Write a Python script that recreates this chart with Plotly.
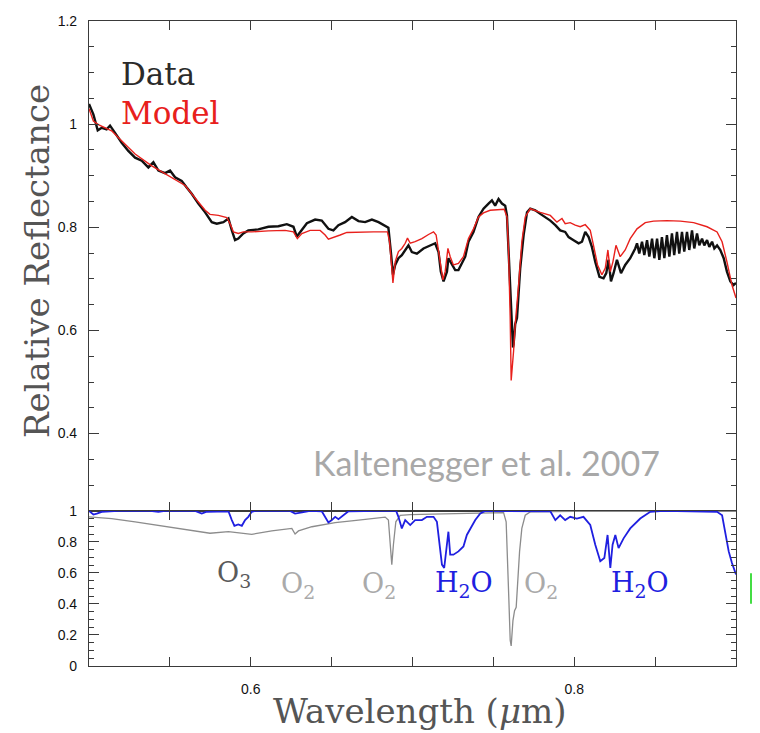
import plotly.graph_objects as go

# ---------------- data ----------------
data_wl = [0.5, 0.5027, 0.5054, 0.5079, 0.5109, 0.5130, 0.5161, 0.5202, 0.5243, 0.5285,
           0.5326, 0.5367, 0.5398, 0.5429, 0.5470, 0.5501, 0.5532, 0.5573, 0.5604, 0.5635,
           0.5676, 0.5718, 0.5759, 0.5790, 0.5831, 0.5862, 0.5883, 0.5903, 0.5923, 0.5954,
           0.5985, 0.6047, 0.6109, 0.6171, 0.6223, 0.6264, 0.6285, 0.6316, 0.6347, 0.6398,
           0.6439, 0.6480, 0.6511, 0.6542, 0.6583, 0.6625, 0.6666, 0.6707, 0.6749, 0.6790,
           0.6831, 0.6851, 0.6866, 0.6879, 0.6893, 0.6913, 0.6934, 0.6955, 0.6975, 0.6996,
           0.7027, 0.7068, 0.7109, 0.7140, 0.7161, 0.7175, 0.7192, 0.7213, 0.7222, 0.7243,
           0.7264, 0.7284, 0.7305, 0.7326, 0.7346, 0.7377, 0.7408, 0.7439, 0.7470, 0.7491,
           0.7511, 0.7532, 0.7553, 0.7573, 0.7584, 0.7594, 0.7604, 0.7615, 0.7621, 0.7625,
           0.7635, 0.7646, 0.7656, 0.7666, 0.7687, 0.7708, 0.7728, 0.7759, 0.7790, 0.7821,
           0.7852, 0.7883, 0.7913, 0.7944, 0.7965, 0.7996, 0.8027, 0.8048, 0.8068, 0.8089,
           0.8109, 0.8130, 0.8156, 0.8181, 0.8198, 0.8212, 0.8227, 0.8243, 0.8264, 0.8289,
           0.8315, 0.8346, 0.8377, 0.8388, 0.8402, 0.8419, 0.8433, 0.8450, 0.8464, 0.8481,
           0.8495, 0.8512, 0.8526, 0.8542, 0.8557, 0.8573, 0.8588, 0.8604, 0.8618, 0.8635,
           0.8649, 0.8666, 0.8680, 0.8697, 0.8711, 0.8728, 0.8742, 0.8759, 0.8773, 0.8790,
           0.8804, 0.8821, 0.8835, 0.8852, 0.8866, 0.8883, 0.8903, 0.8924, 0.8944, 0.8965,
           0.8985, 0.9]
data_refl = [1.039, 1.019, 0.988, 0.993, 0.990, 0.997, 0.983, 0.964, 0.948, 0.935,
             0.929, 0.916, 0.926, 0.910, 0.905, 0.910, 0.897, 0.890, 0.877, 0.865,
             0.846, 0.829, 0.810, 0.807, 0.810, 0.817, 0.794, 0.775, 0.778, 0.788,
             0.794, 0.796, 0.801, 0.802, 0.806, 0.801, 0.782, 0.795, 0.808, 0.815,
             0.813, 0.797, 0.794, 0.804, 0.810, 0.820, 0.812, 0.810, 0.815, 0.810,
             0.803, 0.799, 0.753, 0.708, 0.727, 0.740, 0.746, 0.756, 0.765, 0.752,
             0.749, 0.759, 0.765, 0.769, 0.752, 0.714, 0.695, 0.714, 0.740, 0.727,
             0.717, 0.717, 0.730, 0.743, 0.772, 0.791, 0.820, 0.836, 0.846, 0.852,
             0.842, 0.855, 0.846, 0.842, 0.823, 0.752, 0.663, 0.612, 0.567, 0.573,
             0.612, 0.624, 0.676, 0.721, 0.785, 0.829, 0.836, 0.833, 0.826, 0.820,
             0.813, 0.804, 0.794, 0.791, 0.781, 0.775, 0.769, 0.772, 0.791, 0.781,
             0.762, 0.733, 0.704, 0.701, 0.711, 0.737, 0.695, 0.711, 0.737, 0.711,
             0.727, 0.740, 0.759, 0.769, 0.749, 0.772, 0.746, 0.775, 0.743, 0.778,
             0.740, 0.778, 0.737, 0.781, 0.740, 0.785, 0.743, 0.788, 0.746, 0.791,
             0.749, 0.791, 0.753, 0.791, 0.756, 0.794, 0.759, 0.788, 0.765, 0.778,
             0.765, 0.775, 0.762, 0.772, 0.759, 0.765, 0.756, 0.740, 0.714, 0.695,
             0.688, 0.692]

model_wl = [0.5, 0.5027, 0.5058, 0.5099, 0.5140, 0.5181, 0.5285, 0.5388, 0.5491, 0.5594,
            0.5676, 0.5718, 0.5748, 0.5800, 0.5852, 0.5872, 0.5893, 0.5923, 0.5954, 0.6006,
            0.6109, 0.6212, 0.6264, 0.6288, 0.6316, 0.6367, 0.6429, 0.6460, 0.6480, 0.6511,
            0.6553, 0.6594, 0.6676, 0.6759, 0.6845, 0.6858, 0.6872, 0.6879, 0.6893, 0.6913,
            0.6934, 0.6955, 0.6969, 0.6986, 0.7016, 0.7058, 0.7099, 0.7130, 0.7146, 0.7171,
            0.7188, 0.7202, 0.7219, 0.7233, 0.7253, 0.7284, 0.7315, 0.7346, 0.7377, 0.7408,
            0.7439, 0.7480, 0.7542, 0.7567, 0.7584, 0.7594, 0.7604, 0.7610, 0.7625, 0.7635,
            0.7656, 0.7676, 0.7697, 0.7728, 0.7790, 0.7852, 0.7893, 0.7924, 0.7944, 0.7975,
            0.8006, 0.8037, 0.8068, 0.8099, 0.8119, 0.8144, 0.8171, 0.8192, 0.8208, 0.8223,
            0.8239, 0.8258, 0.8284, 0.8315, 0.8346, 0.8388, 0.8439, 0.8490, 0.8573, 0.8656,
            0.8738, 0.8821, 0.8883, 0.8914, 0.8944, 0.8975, 0.9]
model_refl = [1.030, 1.006, 0.999, 0.993, 0.987, 0.974, 0.942, 0.919, 0.900, 0.881,
              0.849, 0.833, 0.825, 0.823, 0.819, 0.807, 0.791, 0.788, 0.791, 0.791,
              0.793, 0.794, 0.791, 0.778, 0.788, 0.794, 0.794, 0.785, 0.777, 0.781,
              0.785, 0.790, 0.791, 0.791, 0.791, 0.772, 0.721, 0.692, 0.733, 0.753,
              0.759, 0.769, 0.779, 0.769, 0.772, 0.778, 0.786, 0.791, 0.785, 0.733,
              0.698, 0.714, 0.759, 0.743, 0.727, 0.730, 0.743, 0.778, 0.797, 0.820,
              0.828, 0.833, 0.835, 0.835, 0.820, 0.752, 0.624, 0.503, 0.560, 0.612,
              0.688, 0.772, 0.820, 0.836, 0.829, 0.823, 0.810, 0.817, 0.807, 0.809,
              0.804, 0.801, 0.805, 0.794, 0.765, 0.727, 0.708, 0.721, 0.756, 0.714,
              0.733, 0.765, 0.743, 0.756, 0.778, 0.797, 0.809, 0.812, 0.813, 0.812,
              0.809, 0.801, 0.791, 0.772, 0.733, 0.688, 0.663]

o2o3_wl = [0.5, 0.5140, 0.5285, 0.5491, 0.5635, 0.5748, 0.5862, 0.6006, 0.6130, 0.6254,
           0.6274, 0.6295, 0.6378, 0.6522, 0.6666, 0.6831, 0.6851, 0.6862, 0.6872, 0.6882,
           0.6897, 0.6924, 0.6986, 0.7192, 0.7398, 0.7563, 0.7579, 0.7587, 0.7596, 0.7604,
           0.7610, 0.7621, 0.7631, 0.7641, 0.7649, 0.7662, 0.7676, 0.7697, 0.7728, 0.8, 0.9]
o2o3_trans = [0.962, 0.951, 0.930, 0.898, 0.871, 0.856, 0.866, 0.849, 0.871, 0.887,
              0.851, 0.871, 0.898, 0.925, 0.941, 0.960, 0.941, 0.803, 0.654, 0.782,
              0.930, 0.972, 0.976, 0.981, 0.987, 0.989, 0.930, 0.739, 0.420, 0.166,
              0.129, 0.293, 0.357, 0.378, 0.527, 0.739, 0.887, 0.972, 0.994, 0.998, 0.998]

h2o_wl = [0.5, 0.5027, 0.5048, 0.5079, 0.5181, 0.5377, 0.5429, 0.5470, 0.5656, 0.5697,
          0.5724, 0.5862, 0.5883, 0.5899, 0.5923, 0.5945, 0.5965, 0.5985, 0.6006, 0.6027,
          0.6243, 0.6274, 0.6317, 0.6367, 0.6439, 0.6460, 0.6480, 0.6501, 0.6522, 0.6542,
          0.6573, 0.6604, 0.6800, 0.6899, 0.6913, 0.6934, 0.6955, 0.6986, 0.7016, 0.7058,
          0.7089, 0.7130, 0.7151, 0.7167, 0.7182, 0.7196, 0.7208, 0.7222, 0.7233, 0.7253,
          0.7284, 0.7315, 0.7336, 0.7357, 0.7388, 0.7419, 0.7449, 0.7852, 0.7883, 0.7913,
          0.7944, 0.7975, 0.8016, 0.8057, 0.8099, 0.8130, 0.8161, 0.8186, 0.8206, 0.8223,
          0.8237, 0.8254, 0.8274, 0.8305, 0.8346, 0.8408, 0.8470, 0.8552, 0.8883, 0.8914,
          0.8934, 0.8955, 0.8975, 0.9]
h2o_trans = [1.0, 0.977, 0.983, 0.994, 1.0, 1.0, 0.994, 1.0, 1.0, 0.983,
             0.994, 0.998, 0.941, 0.904, 0.913, 0.904, 0.941, 0.962, 0.994, 1.0,
             1.0, 0.983, 0.990, 1.0, 0.998, 0.962, 0.925, 0.941, 0.962, 0.947,
             0.972, 0.998, 1.0, 1.0, 0.962, 0.887, 0.941, 0.909, 0.941, 0.941,
             0.962, 0.962, 0.930, 0.782, 0.654, 0.632, 0.739, 0.866, 0.718, 0.718,
             0.739, 0.771, 0.845, 0.887, 0.941, 0.983, 1.0, 0.998, 0.941, 0.972,
             0.941, 0.962, 0.951, 0.962, 0.909, 0.782, 0.675, 0.696, 0.845, 0.632,
             0.782, 0.845, 0.760, 0.823, 0.887, 0.951, 0.994, 1.0, 0.994, 0.972,
             0.845, 0.739, 0.664, 0.590]

x_tickvals = [0.55, 0.6, 0.65, 0.7, 0.75, 0.8, 0.85]
x_ticktext = ["", "0.6", "", "", "", "0.8", ""]

# ---------------- figure ----------------
OFF = 8                      # page body margin in the browser
W, H = 752, 725
L, T = 89 - OFF, 13 - OFF
R = W - (736 - OFF)
B = H - (666 - OFF)
plot_w = W - L - R
plot_h = H - T - B
split = 157 / plot_h

SERIF = "DejaVu Serif"
AX = "#3a3a3a"

fig = go.Figure()
fig.add_trace(go.Scatter(x=o2o3_wl, y=o2o3_trans, xaxis="x2", yaxis="y2", mode="lines",
                         line=dict(color="#8c8c8c", width=1.3), showlegend=False))
fig.add_trace(go.Scatter(x=h2o_wl, y=h2o_trans, xaxis="x2", yaxis="y2", mode="lines",
                         line=dict(color="#1f1fe0", width=1.8), showlegend=False))
fig.add_trace(go.Scatter(x=data_wl, y=data_refl, xaxis="x", yaxis="y", mode="lines",
                         line=dict(color="#111111", width=2.4), showlegend=False))
fig.add_trace(go.Scatter(x=model_wl, y=model_refl, xaxis="x", yaxis="y", mode="lines",
                         line=dict(color="#e8201c", width=1.4), showlegend=False))

tickfont = dict(family="Liberation Sans", size=14, color="#111111")
common_x = dict(range=[0.5, 0.9], showline=True, linecolor=AX, linewidth=1.2, mirror="allticks",
                ticks="inside", ticklen=9, tickcolor=AX, tickwidth=1.1, tickmode="array",
                tickvals=x_tickvals, ticktext=x_ticktext, showgrid=False, zeroline=False,
                tickfont=tickfont)
common_y = dict(showline=True, linecolor=AX, linewidth=1.2, mirror="allticks",
                ticks="inside", ticklen=10, tickcolor=AX, tickwidth=1.1, showgrid=False,
                zeroline=False, tickfont=tickfont, ticklabelstandoff=8,
                minor=dict(dtick=0.05, ticks="inside", ticklen=5, tickcolor=AX, tickwidth=1.0, showgrid=False))

fig.update_layout(
    width=W, height=H, margin=dict(l=L, r=R, t=T, b=B),
    paper_bgcolor="white", plot_bgcolor="white", showlegend=False,
    xaxis=dict(common_x, anchor="y", showticklabels=False),
    yaxis=dict(common_y, domain=[split, 1], range=[0.25, 1.2], tick0=0.4, dtick=0.2),
    xaxis2=dict(common_x, anchor="y2", showticklabels=True, ticklabelstandoff=10),
    yaxis2=dict(common_y, domain=[0, split], range=[0, 1.0], tick0=0, dtick=0.2),
)

def px2paper(px, py):
    # screen pixel -> paper coordinates
    return (px - OFF - L) / plot_w, (H - B - (py - OFF)) / plot_h

anns = []
def add_text(text, px, py, size, color, family=SERIF, angle=0, xanchor="center", yanchor="middle"):
    xp, yp = px2paper(px, py)
    anns.append(dict(text=text, x=xp, y=yp, xref="paper", yref="paper", showarrow=False,
                     font=dict(family=family, size=size, color=color), textangle=angle,
                     xanchor=xanchor, yanchor=yanchor, borderpad=0))

add_text("Data", 120, 67, 31, "#2a2a2a", xanchor="left")
add_text("Model", 120, 106, 31, "#e8201c", xanchor="left")
add_text("Relative Reflectance", 37, 256, 34, "#555555", angle=-90)
add_text("Wavelength (<i>μ</i>m)", 420, 712, 34, "#555555")
add_text("Kaltenegger et al. 2007", 487, 460, 34, "#a8a8a8", family="Lato")
add_text("O<sub>3</sub>", 234, 573, 27, "#5a5a5a")
add_text("O<sub>2</sub>", 298, 585, 27, "#aaaaaa")
add_text("O<sub>2</sub>", 379, 585, 27, "#aaaaaa")
add_text("H<sub>2</sub>O", 464, 583, 27, "#1f1fe0")
add_text("O<sub>2</sub>", 541, 585, 27, "#aaaaaa")
add_text("H<sub>2</sub>O", 640, 583, 27, "#1f1fe0")
fig.update_layout(annotations=anns)

# slide artefacts at the right edge (kept inside the figure area)
x_edge = (W - L) / plot_w
y_bot = -B / plot_h
bx0, by_top = px2paper(753, 18)
_, by_mid = px2paper(753, 475)
fig.add_shape(type="rect", xref="paper", yref="paper", x0=bx0, x1=x_edge, y0=y_bot, y1=by_mid,
              fillcolor="#e2e2e2", line=dict(width=0), layer="above")
fig.add_shape(type="rect", xref="paper", yref="paper", x0=bx0, x1=x_edge, y0=by_mid, y1=by_top,
              fillcolor="#888888", line=dict(width=0), layer="above")
gx0, gy1 = px2paper(750, 572)
gx1, gy0 = px2paper(752.5, 603)
fig.add_shape(type="rect", xref="paper", yref="paper", x0=gx0, x1=gx1, y0=gy0, y1=gy1,
              fillcolor="#44dd44", line=dict(width=0), layer="above")

fig.write_html("out.html")
